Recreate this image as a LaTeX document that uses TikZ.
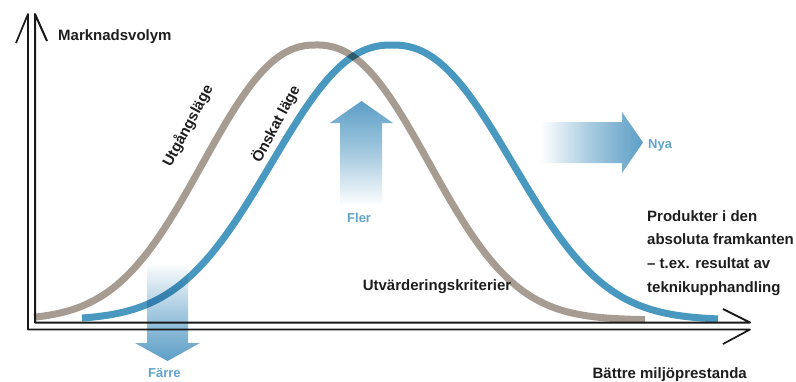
\documentclass[tikz,border=0pt]{standalone}
\usepackage{fontspec}
\setmainfont{Liberation Sans}
\definecolor{cgray}{RGB}{166,156,145}
\definecolor{cblue}{RGB}{72,152,192}
\definecolor{ablue}{RGB}{92,158,198}
\definecolor{tblue}{RGB}{96,163,204}
\definecolor{axisc}{RGB}{25,25,25}
\definecolor{txt}{RGB}{30,30,30}
\tikzset{
  lbl/.style={font=\fontsize{15}{23.7}\selectfont\bfseries, inner sep=0pt, text=txt},
  bluelbl/.style={font=\fontsize{13}{15}\selectfont\bfseries, inner sep=0pt, text=tblue},
  curvegray/.style={draw=cgray, line width=7pt},
  curveblue/.style={draw=cblue, line width=7pt},
  axisline/.style={draw=axisc, line join=round, line cap=butt}
}
\begin{document}
\begin{tikzpicture}[x=1pt,y=-1pt]
\useasboundingbox (0,0) rectangle (796,381);
% "Färre" arrow (under the curves and axes)
\shade[top color=white, bottom color=ablue, middle color=ablue!55]
  (147,262) -- (188,262) -- (188,343) -- (200,343) -- (167.5,361) -- (135,343) -- (147,343) -- cycle;
% curves
\begin{scope}[blend mode=multiply]
\draw[curvegray] plot[domain=34:645, samples=160, smooth]
  (\x, {320-275*exp(-0.5*pow(abs((\x-316)/107.6)+0.0001,2.3))});
\draw[curveblue] plot[domain=82:718, samples=160, smooth]
  (\x, {320-275*exp(-0.5*pow(abs((\x-392)/114.6)+0.0001,2.3))});
\end{scope}
% axes (double line with open tips)
\draw[axisline, line width=1.7pt] (16,43) -- (28,14) -- (28,329.5) -- (750,329.5) -- (723,344);
\draw[axisline, line width=2pt] (47,41) -- (35,14) -- (35,322.5) -- (750,322.5) -- (723,309);
% arrows
\shade[top color=ablue, bottom color=white, middle color=ablue!55]
  (361.5,101) -- (393,123) -- (382,123) -- (382,206) -- (340,206) -- (340,123) -- (330,123) -- cycle;
\shade[left color=white, right color=ablue, middle color=ablue!55]
  (540,122) -- (622,122) -- (622,112) -- (643,142.5) -- (622,173) -- (622,163) -- (540,163) -- cycle;
% labels
\node[lbl, anchor=base west] (yl) at (58,40) {Marknadsvolym};
\node[lbl, rotate=62] (ul) at (188,126) {Utgångsläge};
\node[lbl, rotate=62] (ol) at (276,124) {Önskat läge};
\node[lbl, anchor=base] (uk) at (437,290) {Utvärderingskriterier};
\node[lbl, anchor=north west, align=left] (pk) at (647,210)
  {Produkter i den\\absoluta framkanten\\– t.ex. resultat av\\teknikupphandling};
\node[lbl, anchor=base east] (xl) at (747,378) {Bättre miljöprestanda};
\node[bluelbl, anchor=base west] (fl) at (347,222) {Fler};
\node[bluelbl, anchor=base west] (ny) at (648,148) {Nya};
\node[bluelbl, anchor=base west] (fa) at (148,377) {Färre};
\end{tikzpicture}
\end{document}
